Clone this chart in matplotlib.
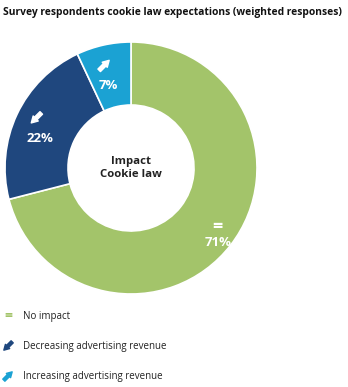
import numpy as np
import matplotlib.pyplot as plt
from matplotlib.transforms import offset_copy

categories = ['No impact', 'Decreasing advertising revenue', 'Increasing advertising revenue']
shares = [71, 22, 7]
colors = ['#a3c46a', '#1f477e', '#1ba2d3']
icons = ['=', 'down', 'up']
title = 'Survey respondents cookie law expectations (weighted responses)'
center_text = 'Impact\nCookie law'

plt.rcParams['font.family'] = ['Open Sans', 'DejaVu Sans']

fig = plt.figure(figsize=(3.48, 3.87), dpi=100)
W, H = 348, 387
cx, cy, R = 131, 168, 126
ax = fig.add_axes([(cx - R) / W, (H - cy - R) / H, 2 * R / W, 2 * R / H])
wedges, _ = ax.pie(shares, colors=colors, startangle=90, counterclock=False,
                   radius=1.0, wedgeprops=dict(width=0.5, edgecolor='white', linewidth=1.2))
ax.set_xlim(-1, 1)
ax.set_ylim(-1, 1)
ax.set_aspect('equal')
ax.axis('off')

ax.text(0, 0, center_text, ha='center', va='center', fontsize=8.2, fontweight='bold',
        color='#222222', linespacing=1.3)


def draw_icon(x, y, kind, color, size, transform, eq_size):
    # size = half diagonal of the arrow in points
    if kind == '=':
        fig.text(x, y, '=', ha='center', va='center', fontsize=eq_size, fontweight='bold',
                 color=color, transform=transform)
        return
    sign = 1 if kind == 'up' else -1
    head = offset_copy(transform, fig=fig, x=sign * size, y=sign * size, units='points')
    ax.annotate('', xy=(x, y), xycoords=head, xytext=(-2 * sign * size, -2 * sign * size),
                textcoords='offset points', annotation_clip=False,
                arrowprops=dict(arrowstyle='simple,head_length=0.7,head_width=0.8,tail_width=0.4',
                                color=color, shrinkA=0, shrinkB=0, mutation_scale=size * 1.8))


# label placement per wedge (styling): radius and angle nudge in degrees
label_r = [0.91, 0.76, 0.68]
label_da = [-3, 7, 3]
for w, s, icon, lr, da in zip(wedges, shares, icons, label_r, label_da):
    ang = np.deg2rad((w.theta1 + w.theta2) / 2 + da)
    x, y = lr * np.cos(ang), lr * np.sin(ang)
    ax.text(x, y, f'{s}%', ha='center', va='center', fontsize=9.5, fontweight='bold',
            color='white')
    dy = 0.13 if icon == '=' else 0.16
    dx = 0 if icon == '=' else -0.03
    draw_icon(x + dx, y + dy, icon, 'white', 3.6, ax.transData, 13)

fig.text(3 / W, 1 - 13 / H, title, ha='left', va='center', fontsize=7.4, fontweight='bold',
         color='#111111')

leg_y = [316, 346, 376]
for cat, col, icon, yy in zip(categories, colors, icons, leg_y):
    draw_icon(8 / W, 1 - yy / H, icon, col, 3, fig.transFigure, 10)
    fig.text(23 / W, 1 - yy / H, cat, ha='left', va='center', fontsize=7, color='#222222')

fig.savefig('out.png', dpi=100)
